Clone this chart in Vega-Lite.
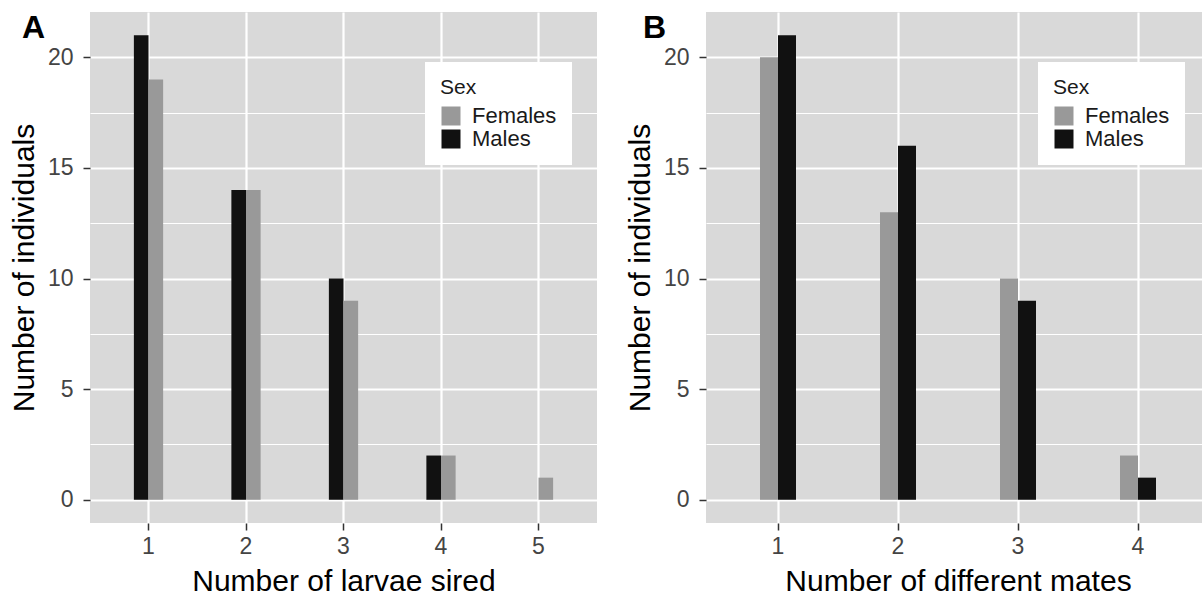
{
  "$schema": "https://vega.github.io/schema/vega-lite/v6.json",
  "padding": {"left": 9, "top": 12, "right": 0, "bottom": 0},
  "background": "white",
  "config": {
    "font": "Liberation Sans",
    "view": {"fill": "#d9d9d9", "stroke": null},
    "axis": {
      "domain": false,
      "grid": true,
      "gridColor": "white",
      "tickColor": "#333333",
      "tickSize": 7,
      "tickWidth": 1.5,
      "labelFont": "Liberation Sans",
      "labelFontSize": 23,
      "labelColor": "#444444",
      "titleFont": "Liberation Sans",
      "titleFontSize": 30,
      "titleFontWeight": "normal",
      "titleColor": "black"
    },
    "axisX": {"labelPadding": 5, "titlePadding": 8, "labelAngle": 0, "gridWidth": 2.2},
    "axisY": {"labelPadding": 10, "titlePadding": 8},
    "legend": {
      "fillColor": "white",
      "padding": 15,
      "titleFontSize": 21,
      "titleFontWeight": "normal",
      "titleColor": "#1a1a1a",
      "titlePadding": 7,
      "labelFontSize": 22,
      "labelColor": "#1a1a1a",
      "labelOffset": 10,
      "symbolType": "square",
      "symbolSize": 361,
      "symbolStrokeWidth": 0,
      "rowPadding": 1
    },
    "title": {"font": "Liberation Sans", "fontSize": 32, "fontWeight": "bold", "color": "black"}
  },
  "spacing": 28,
  "resolve": {"scale": {"color": "independent", "xOffset": "independent", "x": "independent"}, "legend": {"color": "independent"}},
  "hconcat": [
    {
      "width": 507,
      "height": 511,
      "title": {"text": "A", "anchor": "start", "frame": "group", "dx": -68, "offset": -58, "baseline": "alphabetic"},
      "data": {"values": [
        {"larvae": 1, "sex": "Males", "count": 21},
        {"larvae": 1, "sex": "Females", "count": 19},
        {"larvae": 2, "sex": "Males", "count": 14},
        {"larvae": 2, "sex": "Females", "count": 14},
        {"larvae": 3, "sex": "Males", "count": 10},
        {"larvae": 3, "sex": "Females", "count": 9},
        {"larvae": 4, "sex": "Males", "count": 2},
        {"larvae": 4, "sex": "Females", "count": 2},
        {"larvae": 5, "sex": "Females", "count": 1}
      ]},
      "mark": {"type": "bar"},
      "encoding": {
        "x": {"field": "larvae", "type": "ordinal", "scale": {"paddingInner": 0.7, "paddingOuter": 0.45}, "axis": {"title": "Number of larvae sired", "bandPosition": 0.5}},
        "xOffset": {"field": "sex", "type": "nominal", "scale": {"domain": ["Males", "Females"], "paddingInner": 0, "paddingOuter": 0}},
        "y": {"field": "count", "type": "quantitative", "scale": {"domain": [-1.05, 22.05], "nice": false, "zero": false},
          "axis": {"title": "Number of individuals", "values": [0, 2.5, 5, 7.5, 10, 12.5, 15, 17.5, 20],
            "labelExpr": "datum.value % 5 === 0 ? format(datum.value, 'd') : ''",
            "tickOpacity": {"condition": {"test": "datum.value % 5 !== 0", "value": 0}, "value": 1},
            "gridWidth": {"condition": {"test": "datum.value % 5 !== 0", "value": 1.1}, "value": 2.2}}},
        "y2": {"datum": 0},
        "color": {"field": "sex", "type": "nominal", "scale": {"domain": ["Females", "Males"], "range": ["#999999", "#111111"]},
          "legend": {"title": "Sex", "orient": "none", "legendX": 335, "legendY": 50}}
      }
    },
    {
      "width": 497,
      "height": 511,
      "title": {"text": "B", "anchor": "start", "frame": "group", "dx": -63, "offset": -58, "baseline": "alphabetic"},
      "data": {"values": [
        {"mates": 1, "sex": "Females", "count": 20},
        {"mates": 1, "sex": "Males", "count": 21},
        {"mates": 2, "sex": "Females", "count": 13},
        {"mates": 2, "sex": "Males", "count": 16},
        {"mates": 3, "sex": "Females", "count": 10},
        {"mates": 3, "sex": "Males", "count": 9},
        {"mates": 4, "sex": "Females", "count": 2},
        {"mates": 4, "sex": "Males", "count": 1}
      ]},
      "mark": {"type": "bar"},
      "encoding": {
        "x": {"field": "mates", "type": "ordinal", "scale": {"paddingInner": 0.7, "paddingOuter": 0.45, "range": [0, 504]}, "axis": {"title": "Number of different mates", "bandPosition": 0.5}},
        "xOffset": {"field": "sex", "type": "nominal", "scale": {"domain": ["Females", "Males"], "paddingInner": 0, "paddingOuter": 0}},
        "y": {"field": "count", "type": "quantitative", "scale": {"domain": [-1.05, 22.05], "nice": false, "zero": false},
          "axis": {"title": "Number of individuals", "values": [0, 2.5, 5, 7.5, 10, 12.5, 15, 17.5, 20],
            "labelExpr": "datum.value % 5 === 0 ? format(datum.value, 'd') : ''",
            "tickOpacity": {"condition": {"test": "datum.value % 5 !== 0", "value": 0}, "value": 1},
            "gridWidth": {"condition": {"test": "datum.value % 5 !== 0", "value": 1.1}, "value": 2.2}}},
        "y2": {"datum": 0},
        "color": {"field": "sex", "type": "nominal", "scale": {"domain": ["Females", "Males"], "range": ["#999999", "#111111"]},
          "legend": {"title": "Sex", "orient": "none", "legendX": 332, "legendY": 50}}
      }
    }
  ]
}
